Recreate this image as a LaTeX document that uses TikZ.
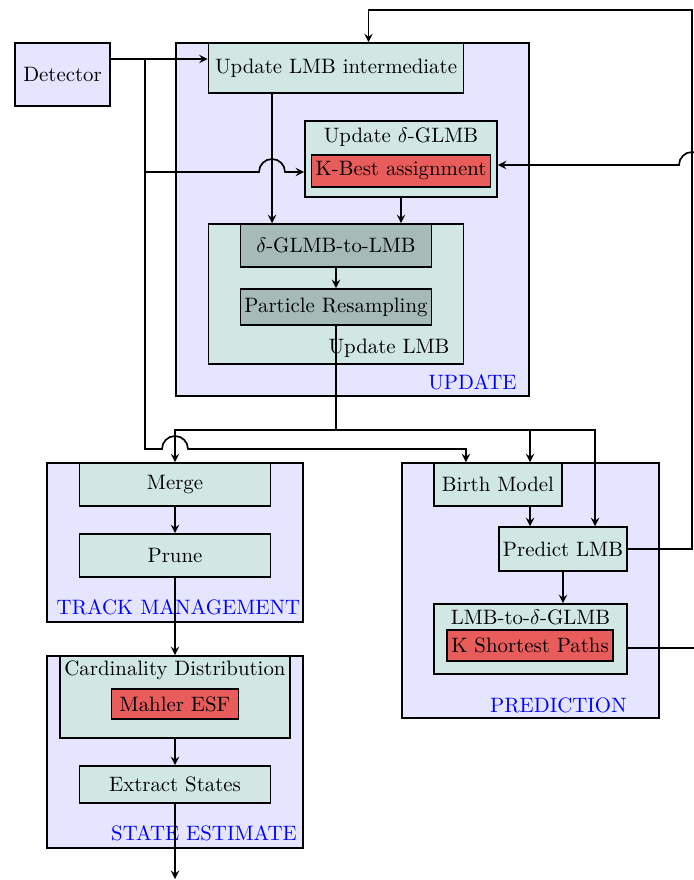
\documentclass[tikz,border=0pt]{standalone}
\definecolor{blockgreen}{RGB}{208,231,227}
\definecolor{stepgray}{RGB}{166,186,184}
\definecolor{algored}{RGB}{233,92,92}
\tikzset{
  groupbox/.style   = {draw, thick, fill=blue!10, inner sep=0pt},
  block/.style      = {draw, thick, fill=blockgreen, inner sep=1pt},
  substep/.style    = {draw, thick, fill=stepgray, inner sep=1pt},
  algo/.style       = {draw, thick, fill=algored, inner sep=1pt},
  grouplabel/.style = {text=blue},
  wire/.style       = {thick},
  flow/.style       = {thick, -stealth},
}
\begin{document}
\begin{tikzpicture}[x=0.48pt, y=-0.48pt]
        \useasboundingbox (0,0) rectangle (694,880);
        % groups
        \node[groupbox, minimum width=45.6pt,  minimum height=30.2pt]  (det)   at (62.5,74.5)  {Detector};
        \node[groupbox, minimum width=169.4pt, minimum height=169.4pt] (upd)   at (352.5,219.5) {};
        \node[groupbox, minimum width=122.9pt, minimum height=76.3pt]  (track) at (175,542.5)   {};
        \node[groupbox, minimum width=122.9pt, minimum height=92.2pt]  (state) at (175,752)     {};
        \node[groupbox, minimum width=123.4pt, minimum height=122.4pt] (pred)  at (530.5,590.5) {};
        % update
        \node[block, minimum width=122.4pt, minimum height=24pt]     (lmbint)   at (336,68)    {Update LMB intermediate};
        \node[block, minimum width=92.2pt,  minimum height=36.5pt]   (glmbupd)  at (401,159)   {};
        \node at (401,137) {Update $\delta$-GLMB};
        \node[algo,  minimum width=85.9pt,  minimum height=15.4pt]   (kbest)    at (401,171)   {K-Best assignment};
        \node[block, minimum width=122.4pt, minimum height=67.2pt]   (lmbupd)   at (336,294)   {};
        \node at (389,348) {Update LMB};
        \node[substep, minimum width=91.7pt, minimum height=20.6pt]  (tolmb)    at (336,245.5) {$\delta$-GLMB-to-LMB};
        \node[substep, minimum width=91.7pt, minimum height=17.3pt]  (resample) at (336,307)   {Particle Resampling};
        \node[grouplabel] at (472.5,382) {UPDATE};
        % track management
        \node[block, minimum width=91.7pt, minimum height=20.6pt] (merge) at (175,484.5) {Merge};
        \node[block, minimum width=91.7pt, minimum height=20.6pt] (prune) at (175,555.5) {Prune};
        \node[grouplabel] at (178.5,607) {TRACK MANAGEMENT};
        % state estimate
        \node[block, minimum width=110.4pt, minimum height=39.4pt] (card)    at (175,697)   {};
        \node at (175,670) {Cardinality Distribution};
        \node[algo,  minimum width=61pt,    minimum height=14.4pt] (mahler)  at (175,704)   {Mahler ESF};
        \node[block, minimum width=91.7pt,  minimum height=17.8pt] (extract) at (175,784.5) {Extract States};
        \node[grouplabel] at (204,833) {STATE ESTIMATE};
        % prediction
        \node[block, minimum width=61.4pt, minimum height=20.6pt] (birth)   at (498,484.5) {Birth Model};
        \node[block, minimum width=61.4pt, minimum height=21.1pt] (predlmb) at (563,549)   {Predict LMB};
        \node[block, minimum width=92.6pt, minimum height=33.6pt] (toglmb)  at (530.5,639) {};
        \node at (530.5,617) {LMB-to-$\delta$-GLMB};
        \node[algo,  minimum width=79.7pt, minimum height=14.9pt] (kshort)  at (530,645.5) {K Shortest Paths};
        \node[grouplabel] at (558.5,705) {PREDICTION};
        % connectors
        \coordinate (tap)  at (145,59);
        \coordinate (bus)  at (336,430);
        \coordinate (loop) at (692,10);
        \coordinate (out)  at (175,879);
        \draw[flow] (det.east |- tap) -- (lmbint.west |- tap);
        \draw[flow] (tap) |- (259,172) arc[start angle=180, end angle=0, radius=6.24pt] -- (glmbupd.west |- 0,172);
        \draw[flow] (tap) |- (162,449) arc[start angle=180, end angle=0, radius=6.24pt] -| ([xshift=-15.4pt]birth.north);
        \draw[flow] ([xshift=-30.7pt]lmbint.south) -- ([xshift=-30.7pt]tolmb.north);
        \draw[flow] (glmbupd.south) -- (glmbupd.south |- tolmb.north);
        \draw[flow] (tolmb.south) -- (resample.north);
        \draw[wire] (resample.south) -- (bus);
        \draw[flow] (bus) -| (merge.north);
        \draw[flow] (bus) -| ([xshift=15.4pt]birth.north);
        \draw[flow] (bus) -| ([xshift=15.4pt]predlmb.north);
        \draw[flow] (merge.south) -- (prune.north);
        \draw[flow] (prune.south) -- (card.north);
        \draw[flow] (card.south) -- (extract.north);
        \draw[flow] (extract.south) -- (out);
        \draw[flow] ([xshift=15.4pt]birth.south) -- ([xshift=15.4pt]birth.south |- predlmb.north);
        \draw[flow] (predlmb.south) -- (predlmb.south |- toglmb.north);
        \draw[flow] (predlmb.east) -| (loop) -| ([xshift=15.6pt]lmbint.north);
        \draw[flow] ([yshift=-4.3pt]toglmb.east) -- (712,648) |- (705,165)
              arc[start angle=0, end angle=180, radius=6.24pt] -- ([yshift=-2.9pt]glmbupd.east);
      \end{tikzpicture}
\end{document}
